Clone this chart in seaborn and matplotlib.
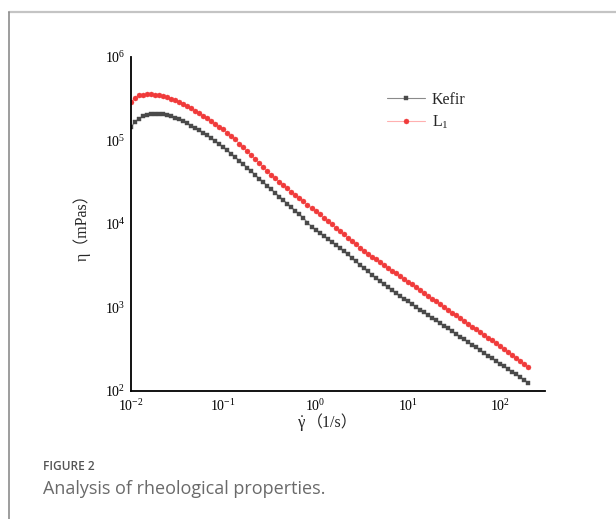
import matplotlib
matplotlib.use("Agg")
import matplotlib.pyplot as plt
import seaborn as sns
import pandas as pd
from matplotlib.lines import Line2D
from matplotlib.ticker import LogFormatterMathtext, NullLocator

# ---- data ----
shear_rate = [0.0100, 0.01105, 0.01221, 0.01350, 0.01492, 0.01649, 0.01822, 0.02014, 0.02226, 0.02460,
              0.02719, 0.03005, 0.03321, 0.03671, 0.04057, 0.04484, 0.04955, 0.05477, 0.06053, 0.06690,
              0.07394, 0.08172, 0.09032, 0.09983, 0.1103, 0.1220, 0.1348, 0.1490, 0.1646, 0.1820,
              0.2011, 0.2223, 0.2457, 0.2715, 0.3001, 0.3317, 0.3666, 0.4051, 0.4477, 0.4949,
              0.5469, 0.6045, 0.6681, 0.7384, 0.8161, 0.9019, 0.9968, 1.102, 1.218, 1.346,
              1.487, 1.644, 1.817, 2.008, 2.219, 2.453, 2.711, 2.996, 3.311, 3.660,
              4.045, 4.470, 4.940, 5.460, 6.035, 6.670, 7.372, 8.147, 9.004, 9.950,
              11.00, 12.16, 13.44, 14.85, 16.41, 18.14, 20.04, 22.15, 24.48, 27.06,
              29.91, 33.05, 36.53, 40.37, 44.62, 49.32, 54.51, 60.24, 66.58, 73.58,
              81.33, 89.88, 99.34, 109.8, 121.3, 134.1, 148.2, 163.9, 181.1, 200.0]

kefir = [1.44e5, 1.68e5, 1.83e5, 1.94e5, 2.01e5, 2.05e5, 2.07e5, 2.08e5, 2.06e5, 2.02e5,
         1.96e5, 1.88e5, 1.80e5, 1.70e5, 1.61e5, 1.51e5, 1.42e5, 1.33e5, 1.24e5, 1.15e5,
         1.06e5, 9.82e4, 9.04e4, 8.30e4, 7.59e4, 6.93e4, 6.31e4, 5.73e4, 5.20e4, 4.71e4,
         4.27e4, 3.86e4, 3.50e4, 3.17e4, 2.86e4, 2.59e4, 2.35e4, 2.13e4, 1.93e4, 1.75e4,
         1.58e4, 1.43e4, 1.30e4, 1.18e4, 1.04e4, 9.33e3, 8.47e3, 7.85e3, 7.24e3, 6.68e3,
         6.15e3, 5.65e3, 5.18e3, 4.73e3, 4.32e3, 3.93e3, 3.57e3, 3.26e3, 2.96e3, 2.70e3,
         2.47e3, 2.26e3, 2.07e3, 1.90e3, 1.75e3, 1.61e3, 1.48e3, 1.37e3, 1.27e3, 1.18e3,
         1.10e3, 1.02e3, 944, 877, 813, 755, 701, 650, 604, 561,
         520, 483, 448, 416, 386, 358, 333, 309, 287, 266,
         247, 229, 213, 198, 183, 170, 158, 147, 136, 126]

l1 = [2.89e5, 3.27e5, 3.46e5, 3.52e5, 3.56e5, 3.57e5, 3.55e5, 3.48e5, 3.40e5, 3.30e5,
      3.18e5, 3.04e5, 2.89e5, 2.74e5, 2.58e5, 2.43e5, 2.28e5, 2.13e5, 1.99e5, 1.85e5,
      1.72e5, 1.59e5, 1.47e5, 1.36e5, 1.24e5, 1.14e5, 1.03e5, 9.20e4, 8.26e4, 7.43e4,
      6.67e4, 5.98e4, 5.38e4, 4.83e4, 4.32e4, 3.86e4, 3.52e4, 3.22e4, 2.94e4, 2.68e4,
      2.45e4, 2.24e4, 2.04e4, 1.87e4, 1.70e4, 1.56e4, 1.42e4, 1.30e4, 1.18e4, 1.08e4,
      9.87e3, 9.00e3, 8.22e3, 7.50e3, 6.85e3, 6.25e3, 5.71e3, 5.23e3, 4.80e3, 4.42e3,
      4.08e3, 3.78e3, 3.50e3, 3.24e3, 3.00e3, 2.77e3, 2.57e3, 2.38e3, 2.20e3, 2.04e3,
      1.89e3, 1.75e3, 1.62e3, 1.50e3, 1.38e3, 1.28e3, 1.19e3, 1.10e3, 1.02e3, 941,
      871, 807, 746, 691, 640, 592, 548, 507, 470, 435,
      403, 373, 345, 318, 294, 271, 250, 230, 212, 195]

series_names = ["Kefir", "L$_1$"]
x_ticks = [1e-2, 1e-1, 1e0, 1e1, 1e2]
y_ticks = [1e2, 1e3, 1e4, 1e5, 1e6]
x_label_symbol = r"$\dot{\mathrm{\gamma}}$"
x_label_unit = "（1/s）"
y_label = "η（mPas）"
caption_head = "FIGURE 2"
caption_text = "Analysis of rheological properties."

df_k = pd.DataFrame({"rate": shear_rate, "eta": kefir})
df_l = pd.DataFrame({"rate": shear_rate, "eta": l1})

sns.set_style("white")
FAM = ["Liberation Serif", "Noto Sans CJK SC", "DejaVu Sans"]
plt.rcParams["font.family"] = FAM
plt.rcParams["mathtext.fontset"] = "custom"
plt.rcParams["mathtext.rm"] = "Liberation Serif"
plt.rcParams["mathtext.it"] = "Liberation Serif:italic"
plt.rcParams["axes.unicode_minus"] = False

W, H = 616, 519
fig = plt.figure(figsize=(W / 100, H / 100), dpi=100)
ax = fig.add_axes([131 / W, 1 - 391 / H, (545 - 131) / W, (391 - 57) / H])

sns.lineplot(data=df_k, x="rate", y="eta", ax=ax, color="#8a8a8a", lw=0.8,
             marker="s", markersize=3.2, markerfacecolor="#4a4a4a", markeredgecolor="#4a4a4a",
             markeredgewidth=0.3, label=series_names[0])
sns.lineplot(data=df_l, x="rate", y="eta", ax=ax, color="#ffb0b0", lw=0.8,
             marker="o", markersize=3.6, markerfacecolor="#f03a3a", markeredgecolor="#f03a3a",
             markeredgewidth=0.3, label=series_names[1])

ax.set_xscale("log")
ax.set_yscale("log")
ax.set_xlim(1e-2, 305)
ax.set_ylim(1e2, 1e6)
ax.set_xticks(x_ticks)
ax.set_yticks(y_ticks)
ax.xaxis.set_major_formatter(LogFormatterMathtext())
ax.yaxis.set_major_formatter(LogFormatterMathtext())
ax.xaxis.set_minor_locator(NullLocator())
ax.yaxis.set_minor_locator(NullLocator())

for s in ["top", "right"]:
    ax.spines[s].set_visible(False)
for s in ["left", "bottom"]:
    ax.spines[s].set_color("black")
    ax.spines[s].set_linewidth(1.3)
ax.tick_params(axis="both", which="major", direction="in", length=5, width=1.3,
               labelsize=10, colors="black", pad=4)
ax.tick_params(axis="x", pad=5)

ax.set_xlabel("")
ax.set_ylabel(y_label, fontsize=11.5, family=FAM)
ax.yaxis.set_label_coords(-40 / 414, 0.5)

# x-axis label: symbol (mathtext) + unit (CJK full-width parentheses)
fig.text(306 / W, 1 - 424 / H, x_label_symbol, fontsize=12, ha="right", va="center")
fig.text(307 / W, 1 - 423 / H, x_label_unit, fontsize=11.5, family=FAM, ha="left", va="center")

leg = ax.legend(loc="upper left", bbox_to_anchor=((387 - 131) / 414, (391 - 92) / 334),
                frameon=False, fontsize=11.5, handlelength=2.35, handletextpad=0.45,
                labelspacing=0.35, borderpad=0, borderaxespad=0)

fig.text(43 / W, 1 - 467 / H, caption_head, fontsize=8.6, color="#555555",
         family="Open Sans", fontweight="semibold", va="center", ha="left")
fig.text(43 / W, 1 - 489 / H, caption_text, fontsize=13, color="#6a6a6a",
         family="Open Sans", va="center", ha="left")

fig.add_artist(Line2D([9 / W, 1], [1 - 12 / H, 1 - 12 / H], transform=fig.transFigure,
                      color="#c4c4c4", lw=1.6))
fig.add_artist(Line2D([9 / W, 9 / W], [0, 1 - 12 / H], transform=fig.transFigure,
                      color="#8c8c8c", lw=1.2))

fig.savefig("out.png", dpi=100)
